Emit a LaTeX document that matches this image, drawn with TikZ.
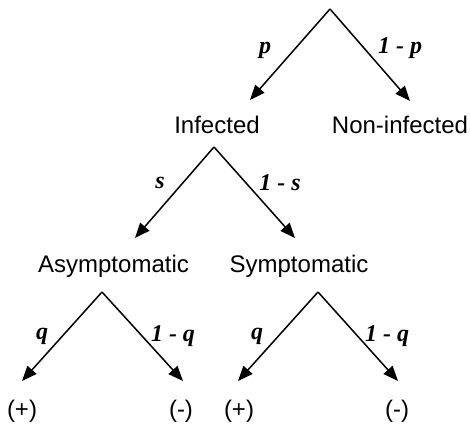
\documentclass[tikz,border=0pt]{standalone}
\usepackage{fontspec}
\setmainfont{Liberation Sans}
\newfontfamily\lblfont{Liberation Serif}
\usetikzlibrary{arrows.meta}
\begin{document}
\begin{tikzpicture}[x=1pt,y=-1pt,
  branch/.style={line width=1.5pt,-{Triangle[length=15pt,width=12pt]}},
  state/.style={inner sep=0pt,anchor=base,font=\fontsize{24}{28}\selectfont},
  prob/.style={inner sep=0pt,font=\lblfont\bfseries\itshape\fontsize{24}{28}\selectfont}]
\useasboundingbox (0,0) rectangle (470,423);
% apexes and tips
\coordinate (r) at (330,9);
\coordinate (rl) at (250,100);
\coordinate (rr) at (410,101);
\coordinate (i) at (214,147);
\coordinate (il) at (135,238);
\coordinate (ir) at (295,238);
\coordinate (a) at (102,292);
\coordinate (al) at (22,381);
\coordinate (ar) at (183,381);
\coordinate (s) at (318,292);
\coordinate (sl) at (238,381);
\coordinate (sr) at (398,381);
% state labels
\node[state] (inf) at (217,133) {Infected};
\node[state] (non) at (400,133) {Non-infected};
\node[state] (asy) at (113.5,272) {Asymptomatic};
\node[state] (sym) at (299,272) {Symptomatic};
\node[state] (ap) at (22,417) {(+)};
\node[state] (am) at (181,417) {(-)};
\node[state] (sp) at (239,417) {(+)};
\node[state] (sm) at (397,417) {(-)};
% arrows
\draw[branch] (r) -- (rl);
\draw[branch] (r) -- (rr);
\draw[branch] (i) -- (il);
\draw[branch] (i) -- (ir);
\draw[branch] (a) -- (al);
\draw[branch] (a) -- (ar);
\draw[branch] (s) -- (sl);
\draw[branch] (s) -- (sr);
% probabilities
\node[prob] (lp) at (265,50) {p};
\node[prob] (lnp) at (400,48) {1 - p};
\node[prob] (ls) at (160,183) {s};
\node[prob] (lns) at (280,183) {1 - s};
\node[prob] (lq1) at (42,336) {q};
\node[prob] (lnq1) at (173,336) {1 - q};
\node[prob] (lq2) at (257,336) {q};
\node[prob] (lnq2) at (387,336) {1 - q};
\end{tikzpicture}
\end{document}
